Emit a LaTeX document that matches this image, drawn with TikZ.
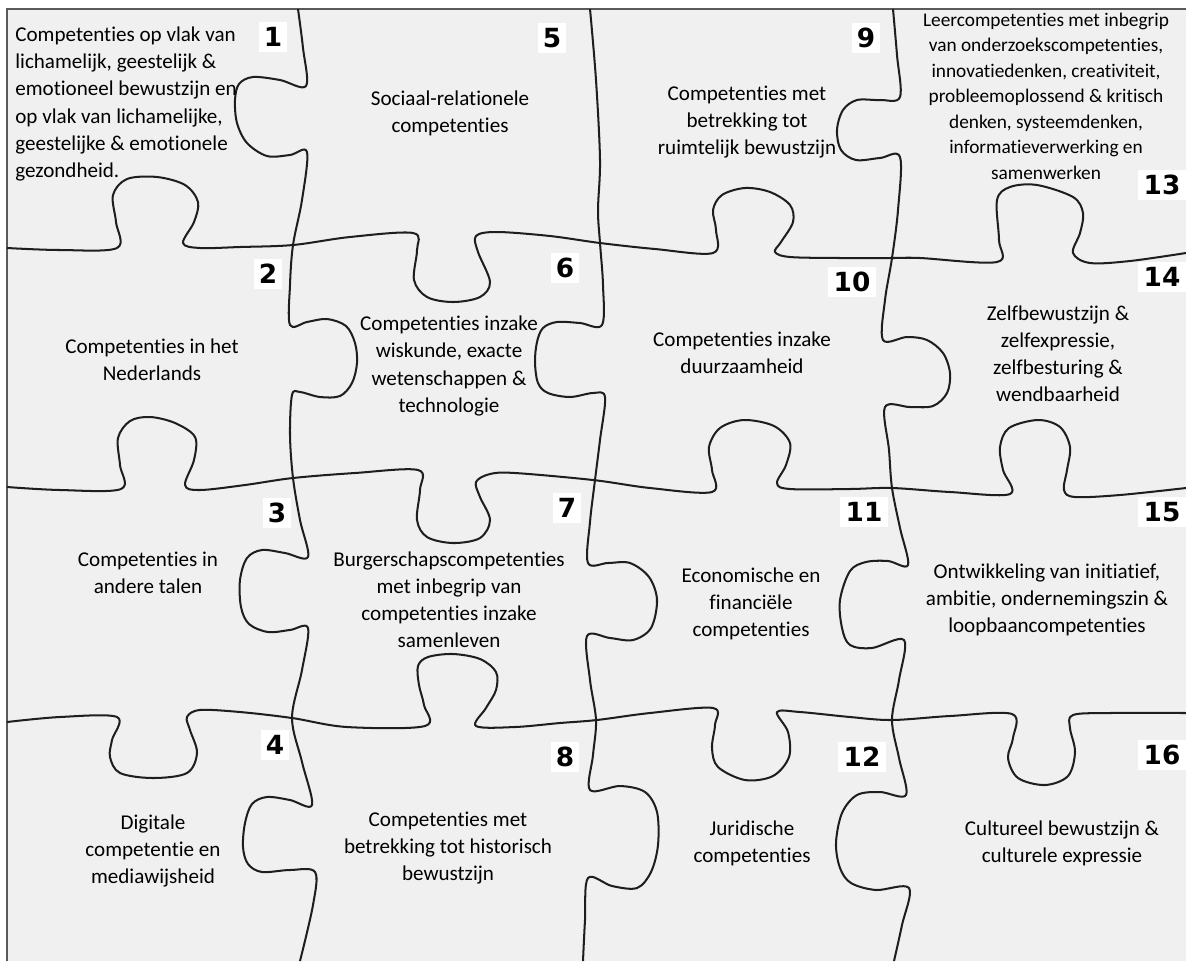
\documentclass[tikz,border=0pt]{standalone}
\usepackage{fontspec}
\setmainfont{Carlito}[Ligatures={NoCommon,NoContextual}]
\newfontfamily\numfont{DejaVu Sans}
\usetikzlibrary{positioning}
\definecolor{Board}{HTML}{F0F0F0}
\definecolor{Seam}{HTML}{1E1E1E}
\definecolor{Edge}{HTML}{5A5A5A}

\begin{document}
\begin{tikzpicture}[x=0.02cm, y=-0.02cm, every node/.style={font=\fontsize{12}{15.4}\selectfont}]
        \tikzstyle{seam}=[draw=Seam, line width=1.15pt, line join=round]
        \tikzstyle{topic}=[align=center, inner sep=0pt]
        \tikzstyle{tag}=[fill=white, inner sep=3pt, font=\numfont\bfseries\fontsize{15}{15}\selectfont]
        \useasboundingbox (0,0) rectangle (1186,961);
        \fill[white] (0,0) rectangle (1186,961);
        \fill[Board] (7,9) rectangle (1186,961);
        \draw[Edge, line width=1pt] (7,961) -- (7,9) -- (1186,9);
        % vertical seams
        \draw[seam] plot[smooth, tension=.55] coordinates {(298,9) (303,48) (306,86) (280,80) (253,77) (239,84) (235,100) (237,123) (247,143) (267,156) (290,155) (307,152) (302,200) (293,245) (290,285) (290,325) (307,322) (327,319) (346,326) (355,343) (357,363) (352,383) (340,396) (320,397) (300,392) (292,395) (290,435) (293,478) (300,520) (308,557) (285,553) (262,550) (247,558) (240,580) (241,607) (249,624) (268,632) (290,630) (308,628) (302,670) (292,718) (302,762) (312,805) (290,800) (267,797) (252,804) (245,823) (243,847) (248,864) (262,872) (290,870) (315,872) (313,905) (300,961)};
        \draw[seam] plot[smooth, tension=.55] coordinates {(590,9) (596,80) (600,160) (598,210) (600,243) (603,285) (602,325) (580,323) (557,322) (543,328) (537,342) (535,362) (538,383) (548,393) (570,397) (593,393) (605,397) (600,440) (595,480) (590,522) (588,563) (608,563) (630,563) (649,577) (657,600) (651,628) (633,640) (610,638) (587,636) (590,680) (596,720) (593,755) (590,790) (620,786) (645,792) (657,812) (658,845) (651,872) (637,888) (612,886) (588,878) (585,920) (583,961)};
        \draw[seam] plot[smooth, tension=.55] coordinates {(893,9) (897,55) (900,97) (880,100) (857,100) (843,110) (837,130) (841,150) (856,160) (880,158) (900,157) (898,210) (892,258) (885,300) (883,340) (907,337) (927,340) (943,353) (950,373) (947,393) (933,406) (910,407) (885,407) (889,450) (892,488) (900,528) (908,565) (888,561) (866,562) (850,571) (840,600) (842,628) (850,645) (872,648) (904,640) (899,680) (892,720) (899,758) (906,795) (880,792) (857,795) (842,813) (836,843) (840,868) (851,883) (876,890) (909,888) (902,925) (894,961)};
        % horizontal seams
        \draw[seam] plot[smooth, tension=.55] coordinates {(7,248) (60,250) (117,248) (116,222) (113,195) (127,179) (157,177) (185,185) (198,202) (194,222) (183,243) (200,248) (240,247) (293,245) (350,237) (413,233) (417,250) (414,280) (427,297) (453,302) (480,297) (490,282) (478,252) (476,236) (497,232) (550,236) (600,243) (655,249) (713,253) (716,230) (713,210) (722,195) (745,188) (770,192) (790,205) (793,222) (781,242) (775,252) (790,257) (840,258) (892,258) (920,258) (997,262) (999,240) (997,200) (1010,187) (1037,185) (1073,197) (1083,213) (1080,233) (1073,253) (1090,263) (1130,261) (1186,253)};
        \draw[seam] plot[smooth, tension=.55] coordinates {(7,487) (60,490) (121,489) (120,465) (118,438) (130,421) (150,417) (175,423) (195,437) (194,460) (185,485) (200,490) (245,485) (293,478) (355,473) (418,470) (420,490) (417,520) (427,537) (453,543) (480,538) (490,520) (480,497) (476,482) (490,474) (515,473) (593,480) (650,488) (712,492) (712,470) (709,447) (720,428) (744,420) (774,426) (790,443) (786,465) (777,483) (790,489) (850,489) (892,488) (950,492) (1010,494) (1003,470) (1000,447) (1009,428) (1038,420) (1060,427) (1070,447) (1067,470) (1064,490) (1075,497) (1120,495) (1186,488)};
        \draw[seam] plot[smooth, tension=.55] coordinates {(7,722) (60,717) (117,717) (112,740) (110,757) (120,773) (153,778) (187,773) (197,753) (190,730) (187,717) (200,710) (240,712) (292,718) (347,727) (425,726) (424,705) (419,685) (418,666) (428,657) (453,654) (480,659) (496,672) (496,690) (486,708) (476,726) (515,727) (560,723) (597,720) (650,713) (713,708) (715,725) (712,748) (718,767) (745,780) (773,776) (789,757) (788,732) (777,712) (800,712) (850,717) (892,720) (950,716) (1012,714) (1013,738) (1008,758) (1018,778) (1045,785) (1068,776) (1075,752) (1070,728) (1073,715) (1110,713) (1186,713)};
        % piece texts
        \node[topic, align=left, anchor=west] (t1) at (15,104) {Competenties op vlak van\\lichamelijk, geestelijk \&\\emotioneel bewustzijn en\\op vlak van lichamelijke,\\geestelijke \& emotionele\\gezondheid.};
        \node[topic] (t5) at (450,113) {Sociaal-relationele\\competenties};
        \node[topic] (t9) at (747,122) {Competenties met\\betrekking tot\\ruimtelijk bewustzijn};
        \node[topic, font=\fontsize{11}{14.5}\selectfont] (t13) at (1046,96) {Leercompetenties met inbegrip\\van onderzoekscompetenties,\\innovatiedenken, creativiteit,\\probleemoplossend \& kritisch\\denken, systeemdenken,\\informatieverwerking en\\samenwerken};
        \node[topic] (t2) at (152,360) {Competenties in het\\Nederlands};
        \node[topic] (t6) at (449,366) {Competenties inzake\\wiskunde, exacte\\wetenschappen \&\\technologie};
        \node[topic] (t10) at (742,353) {Competenties inzake\\duurzaamheid};
        \node[topic] (t14) at (1058,354) {Zelfbewustzijn \&\\zelfexpressie,\\zelfbesturing \&\\wendbaarheid};
        \node[topic] (t3) at (148,573) {Competenties in\\andere talen};
        \node[topic] (t7) at (449,600) {Burgerschapscompetenties\\met inbegrip van\\competenties inzake\\samenleven};
        \node[topic] (t11) at (751,604) {Economische en\\financiële\\competenties};
        \node[topic] (t15) at (1047,600) {Ontwikkeling van initiatief,\\ambitie, ondernemingszin \&\\loopbaancompetenties};
        \node[topic] (t4) at (153,851) {Digitale\\competentie en\\mediawijsheid};
        \node[topic] (t8) at (448,848) {Competenties met\\betrekking tot historisch\\bewustzijn};
        \node[topic] (t12) at (752,843) {Juridische\\competenties};
        \node[topic] (t16) at (1062,843) {Cultureel bewustzijn \&\\culturele expressie};
        % piece numbers
        \node[tag] (n1) at (273,37) {1};
        \node[tag] (n5) at (552,38) {5};
        \node[tag] (n9) at (866,38) {9};
        \node[tag] (n13) at (1162,185) {13};
        \node[tag] (n2) at (268,274) {2};
        \node[tag] (n6) at (565,268) {6};
        \node[tag] (n10) at (852,282) {10};
        \node[tag] (n14) at (1162,277) {14};
        \node[tag] (n3) at (277,513) {3};
        \node[tag] (n7) at (567,508) {7};
        \node[tag] (n11) at (864,512) {11};
        \node[tag] (n15) at (1162,512) {15};
        \node[tag] (n4) at (275,745) {4};
        \node[tag] (n8) at (565,757) {8};
        \node[tag] (n12) at (862,757) {12};
        \node[tag] (n16) at (1162,755) {16};
      \end{tikzpicture}
\end{document}
